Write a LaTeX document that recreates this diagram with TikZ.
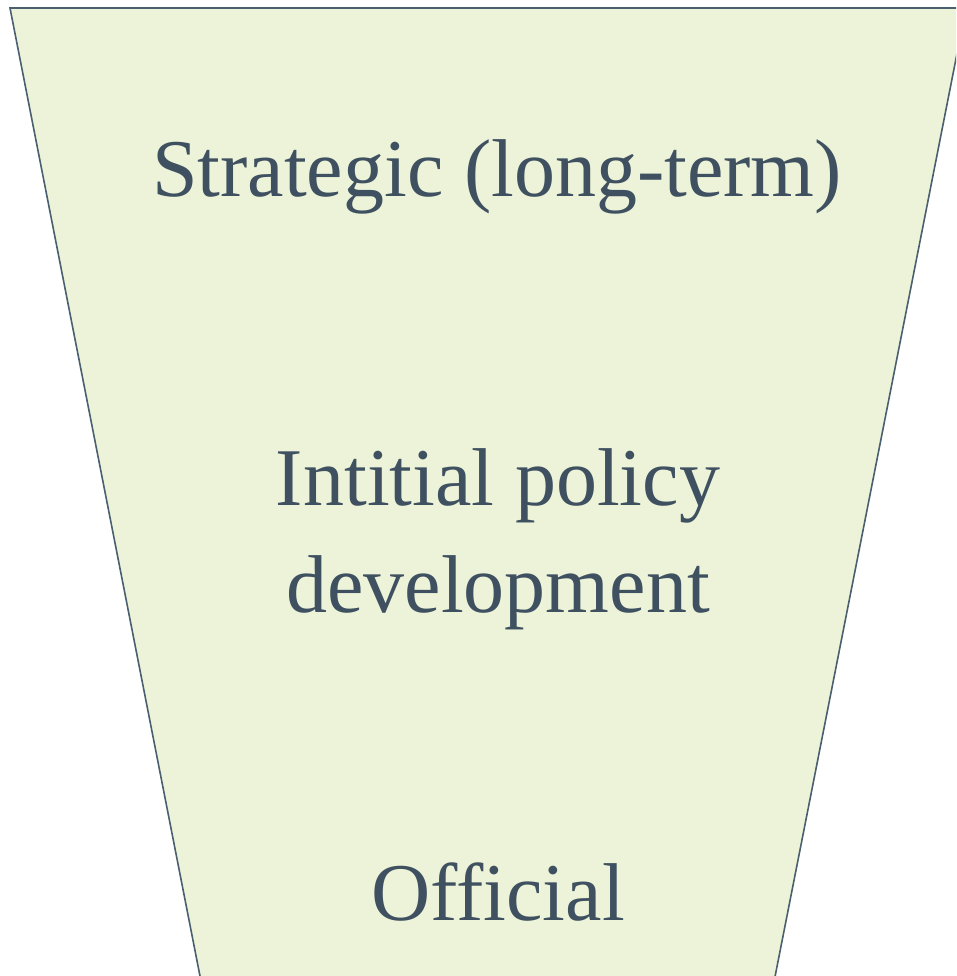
\documentclass[tikz,border=0pt]{standalone}
\usepackage{fontspec}
\setmainfont{Liberation Serif}
\definecolor{fillc}{HTML}{EDF3D8}
\definecolor{linec}{HTML}{4A5F70}
\definecolor{textc}{HTML}{3F5161}
\begin{document}
\begin{tikzpicture}[x=1pt,y=-1pt,
  lbl/.style={text=textc,font=\fontsize{82}{107}\selectfont,align=center,inner sep=0pt,anchor=base}]
\useasboundingbox (0,0) rectangle (956,976);
\clip (0,0) rectangle (956,976);
\draw[fill=fillc,draw=linec,line width=1.6pt] (10,8) -- (966,8) -- (770.4,1000) -- (204.7,1000) -- cycle;
\node[lbl] (s) at (497,197) {Strategic (long-term)};
\node[lbl] (i) at (498,612) {Intitial policy\\development};
\node[lbl] (o) at (498,920) {Official};
\end{tikzpicture}
\end{document}
